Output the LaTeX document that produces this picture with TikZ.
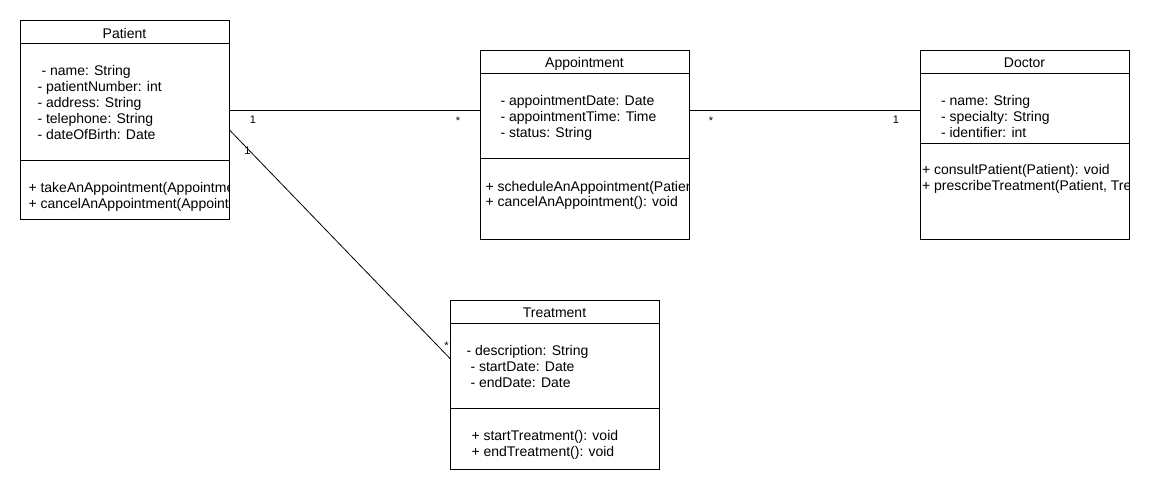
\documentclass[tikz,border=0pt]{standalone}
\usepackage{fontspec}
\setmainfont{Liberation Sans}
\begin{document}
\begin{tikzpicture}[x=1pt,y=-1pt,
  line width=1pt,
  class box/.style={rectangle,draw,inner sep=0pt,anchor=north west},
  title/.style={font=\fontsize{14}{16}\selectfont,inner sep=0pt,anchor=base},
  member/.style={font=\fontsize{14}{16}\selectfont,inner sep=0pt,anchor=base west},
  mult/.style={font=\fontsize{11}{13}\selectfont,inner sep=0pt,anchor=base}]

  \useasboundingbox (0,0) rectangle (1150,490);

  % Patient
  \node[class box,minimum width=209pt,minimum height=199pt] (patient) at (20,20){};
  \draw (20,43) -- (229,43);
  \draw (20,160) -- (229,160);
  \node[title] (patient-t) at (124.5,38){Patient};
  \begin{scope}
    \clip (20,20) rectangle (228.5,219);
    \node[member] (patient-a1) at (41,75){- name: String};
    \node[member] (patient-a2) at (37,91){- patientNumber: int};
    \node[member] (patient-a3) at (37,107){- address: String};
    \node[member] (patient-a4) at (37,123){- telephone: String};
    \node[member] (patient-a5) at (37,139){- dateOfBirth: Date};
    \node[member] (patient-m1) at (28,192){+ takeAnAppointment(Appointment): void};
    \node[member] (patient-m2) at (28,208){+ cancelAnAppointment(Appointment): void};
  \end{scope}

  % Appointment
  \node[class box,minimum width=209pt,minimum height=189pt] (appt) at (480,50){};
  \draw (480,73) -- (689,73);
  \draw (480,158) -- (689,158);
  \node[title] (appt-t) at (584.5,67){Appointment};
  \begin{scope}
    \clip (480,50) rectangle (688.5,239);
    \node[member] (appt-a1) at (500,105){- appointmentDate: Date};
    \node[member] (appt-a2) at (500,121){- appointmentTime: Time};
    \node[member] (appt-a3) at (500,137){- status: String};
    \node[member] (appt-m1) at (485,191){+ scheduleAnAppointment(Patient, Doctor): void};
    \node[member] (appt-m2) at (485,206.5){+ cancelAnAppointment(): void};
  \end{scope}

  % Doctor
  \node[class box,minimum width=209pt,minimum height=189pt] (doctor) at (920,50){};
  \draw (920,73) -- (1129,73);
  \draw (920,143) -- (1129,143);
  \node[title] (doctor-t) at (1024.5,67){Doctor};
  \begin{scope}
    \clip (920,50) rectangle (1128.5,239);
    \node[member] (doctor-a1) at (940.5,105){- name: String};
    \node[member] (doctor-a2) at (940.5,121){- specialty: String};
    \node[member] (doctor-a3) at (940.5,137){- identifier: int};
    \node[member] (doctor-m1) at (921.5,174){+ consultPatient(Patient): void};
    \node[member] (doctor-m2) at (921.5,190){+ prescribeTreatment(Patient, Treatment): void};
  \end{scope}

  % Treatment
  \node[class box,minimum width=209pt,minimum height=169pt] (treat) at (450,300){};
  \draw (450,323) -- (659,323);
  \draw (450,408) -- (659,408);
  \node[title] (treat-t) at (554.5,317){Treatment};
  \begin{scope}
    \clip (450,300) rectangle (658.5,469);
    \node[member] (treat-a1) at (466,355){- description: String};
    \node[member] (treat-a2) at (470,371){- startDate: Date};
    \node[member] (treat-a3) at (470,387){- endDate: Date};
    \node[member] (treat-m1) at (471,440){+ startTreatment(): void};
    \node[member] (treat-m2) at (471,456){+ endTreatment(): void};
  \end{scope}

  % associations
  \path
    ([yshift=9.5pt]patient.east) edge ([yshift=34.5pt]appt.west)
    ([yshift=34.5pt]appt.east) edge ([yshift=34.5pt]doctor.west)
    ([yshift=-10.5pt]patient.east) edge[line width=0.8pt] ([yshift=26.5pt]treat.west);

  \node[mult] (m-pa) at (253,123.5){1};
  \node[mult] (m-ap) at (458,124){*};
  \node[mult] (m-ad) at (711,124){*};
  \node[mult] (m-da) at (896,123.5){1};
  \node[mult] (m-pt) at (247.5,154){1};
  \node[mult] (m-tp) at (446.5,349){*};
\end{tikzpicture}
\end{document}
